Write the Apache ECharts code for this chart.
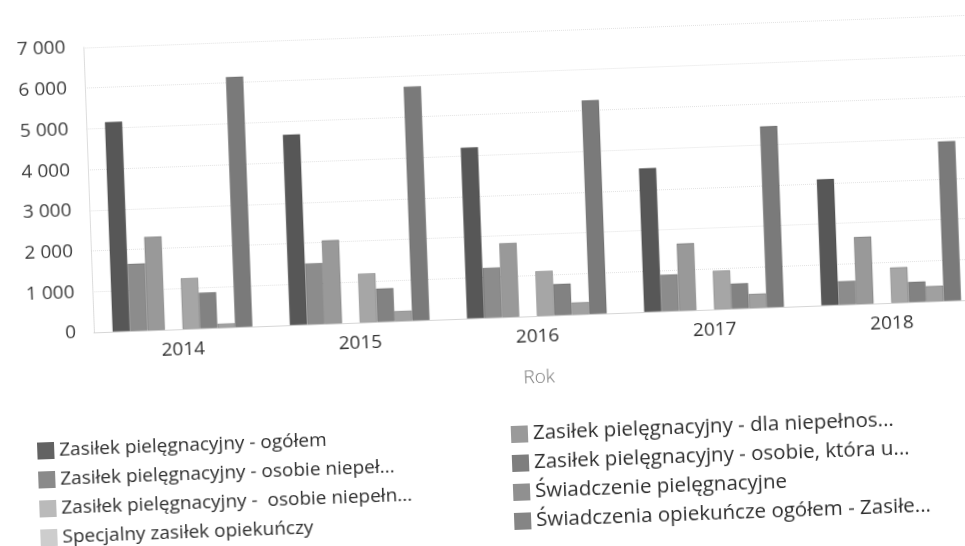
<!DOCTYPE html>
<html lang="pl">
<head>
<meta charset="utf-8">
<title>Świadczenia opiekuńcze</title>
<script src="https://cdn.jsdelivr.net/npm/echarts@6/dist/echarts.min.js"></script>
<style>
  html, body { margin: 0; padding: 0; background: #ffffff; overflow: hidden; }
  #chart {
    position: absolute; left: 0; top: 0;
    width: 1000px; height: 546px;
    transform-origin: 482px 273px;
    transform: rotate(-2.12deg);
  }
</style>
</head>
<body>
<div id="chart"></div>
<script>
// Years on the category axis
const years = ['2014', '2015', '2016', '2017', '2018'];

// Series names (as shown in the legend, already shortened)
const names = [
  'Zasiłek pielęgnacyjny - ogółem',
  'Zasiłek pielęgnacyjny - osobie niepeł...',
  'Zasiłek pielęgnacyjny -  osobie niepełn...',
  'Specjalny zasiłek opiekuńczy',
  'Zasiłek pielęgnacyjny - dla niepełnos...',
  'Zasiłek pielęgnacyjny - osobie, która u...',
  'Świadczenie pielęgnacyjne',
  'Świadczenia opiekuńcze ogółem - Zasiłe...'
];

// Values per series, one per year
const zpOgolem        = [5150, 4680, 4200, 3530, 3100];
const zpNiepel        = [1650, 1500, 1230,  900,  580];
const zpNiepeln       = [2300, 2050, 1820, 1650, 1650];
const specjalny       = [null, null, null, null, null];
const zpDlaNiepelnos  = [1250, 1200, 1100,  950,  870];
const zpOsobieKtora   = [ 880,  820,  770,  620,  500];
const swiadczeniePiel = [ 100,  250,  300,  350,  380];
const swiadczeniaOgol = [6150, 5750, 5250, 4450, 3920];

// Y axis ticks
const yMin = 0, yMax = 7000, yStep = 1000;

const seriesValues = [zpOgolem, zpNiepel, zpNiepeln, specjalny,
                      zpDlaNiepelnos, zpOsobieKtora, swiadczeniePiel, swiadczeniaOgol];
const colors = ['#575757', '#8c8c8c', '#999999', '#c9c9c9',
                '#a6a6a6', '#828282', '#a0a0a0', '#7a7a7a'];
// Legend swatches are printed a little differently from the bars
const swatches = ['#626262', '#8a8a8a', '#bababa', '#cdcdcd',
                  '#9a9a9a', '#7e7e7e', '#909090', '#858585'];

const font = '"Open Sans", "DejaVu Sans", sans-serif';

const chart = echarts.init(document.getElementById('chart'), null, { renderer: 'canvas' });

function legendItems(from, to) {
  return names.slice(from, to).map((n, k) => ({
    name: n,
    itemStyle: { color: swatches[from + k], borderWidth: 0 }
  }));
}

const legendBase = {
  orient: 'vertical',
  icon: 'rect',
  itemWidth: 17,
  itemHeight: 17,
  selectedMode: false
};

chart.setOption({
  animation: false,
  backgroundColor: '#ffffff',
  color: colors,
  grid: { left: 92, top: 33, width: 886.5, height: 285, containLabel: false },
  legend: [
    Object.assign({}, legendBase, {
      left: 26, top: 420, itemGap: 10,
      textStyle: { fontFamily: font, fontSize: 19, color: '#2e2e2e' },
      data: legendItems(0, 4)
    }),
    Object.assign({}, legendBase, {
      left: 500, top: 420, itemGap: 8,
      textStyle: { fontFamily: font, fontSize: 20.5, color: '#2e2e2e' },
      data: legendItems(4, 8)
    })
  ],
  xAxis: {
    type: 'category',
    data: years,
    name: 'Rok',
    nameLocation: 'middle',
    nameGap: 52,
    nameTextStyle: { fontFamily: font, fontSize: 19, color: '#7a7a7a', fontWeight: 300 },
    axisTick: { show: false },
    axisLine: { show: true, lineStyle: { color: '#d6d6d6', width: 1 } },
    axisLabel: { fontFamily: font, fontSize: 19, color: '#333333', margin: 11 }
  },
  yAxis: {
    type: 'value',
    min: yMin,
    max: yMax,
    interval: yStep,
    axisLine: { show: true, lineStyle: { color: '#d6d6d6', type: 'dotted', width: 1 } },
    axisTick: { show: false },
    splitLine: { show: true, lineStyle: { color: '#e2e2e2', type: 'dotted', width: 1 } },
    axisLabel: {
      fontFamily: font, fontSize: 19, color: '#3c3c3c', margin: 18,
      formatter: v => String(v).replace(/\B(?=(\d{3})+(?!\d))/g, '\u00a0')
    }
  },
  series: seriesValues.map((vals, i) => ({
    name: names[i],
    type: 'bar',
    data: vals,
    barGap: '0%',
    barCategoryGap: '21%',
    itemStyle: { color: colors[i], borderColor: 'rgba(50,50,50,0.4)', borderWidth: 0.6 }
  }))
});
</script>
</body>
</html>
